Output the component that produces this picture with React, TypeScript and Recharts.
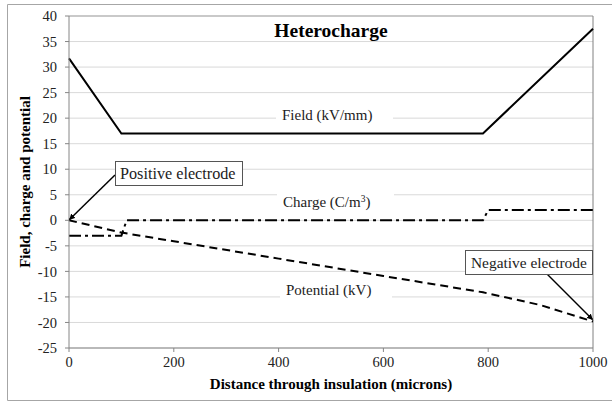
import { CartesianGrid, Line, LineChart, ReferenceLine, XAxis, YAxis } from "recharts";

const serif = "'Liberation Serif', 'Times New Roman', serif";

// distance (microns) vs value
const fieldPts = [
  { x: 0, y: 31.7 },
  { x: 100, y: 17 },
  { x: 790, y: 17 },
  { x: 1000, y: 37.5 },
];

const chargePts = [
  { x: 0, y: -3 },
  { x: 100, y: -3 },
  { x: 110, y: 0 },
  { x: 790, y: 0 },
  { x: 800, y: 2 },
  { x: 1000, y: 2 },
];

const potentialPts = [
  { x: 0, y: 0 },
  { x: 100, y: -2.4 },
  { x: 200, y: -4.1 },
  { x: 400, y: -7.5 },
  { x: 600, y: -10.9 },
  { x: 790, y: -14.1 },
  { x: 900, y: -16.6 },
  { x: 1000, y: -19.8 },
];

const xTicks = [0, 200, 400, 600, 800, 1000];
const yTicks = [-25, -20, -15, -10, -5, 0, 5, 10, 15, 20, 25, 30, 35, 40];

const W = 612;
const H = 404;

function Overlay() {
  return (
    <svg
      width={W}
      height={H}
      style={{ position: "absolute", left: 0, top: 0, pointerEvents: "none", fontFamily: serif }}
    >
      <defs>
        <marker id="arr" viewBox="0 0 10 10" refX="9" refY="5" markerWidth="4" markerHeight="4" orient="auto">
          <path d="M0,0 L10,5 L0,10 z" fill="#000" />
        </marker>
      </defs>
      {/* outer frame */}
      <path d="M612,4.5 H7.5 V400.5 H612" fill="none" stroke="#a6a6a6" strokeWidth={1} />

      <text x={331} y={37} textAnchor="middle" fontSize={19.5} fontWeight="bold" fill="#000">
        Heterocharge
      </text>

      {/* series labels */}
      <rect x={276} y={106} width={117} height={20} fill="#fff" />
      <text x={282} y={120} fontSize={15} fill="#222">Field (kV/mm)</text>

      <rect x={277} y={192} width={117} height={20} fill="#fff" />
      <text x={283} y={207} fontSize={15} fill="#222">
        Charge (C/m<tspan fontSize={9.5} dy={-5}>3</tspan><tspan dy={5}>)</tspan>
      </text>

      <rect x={280} y={280} width={112} height={20} fill="#fff" />
      <text x={286} y={295} fontSize={15} fill="#222">Potential (kV)</text>

      {/* callouts */}
      <line x1={115} y1={175} x2={69.5} y2={219.5} stroke="#000" strokeWidth={1.5} markerEnd="url(#arr)" />
      <rect x={115.5} y={161.5} width={127} height={24} fill="#fff" stroke="#555" />
      <text x={120} y={178.5} fontSize={16.2} fill="#222">Positive electrode</text>

      <line x1={547} y1={274} x2={592.5} y2={319.5} stroke="#000" strokeWidth={1.5} markerEnd="url(#arr)" />
      <rect x={465.5} y={250.5} width={127} height={24} fill="#fff" stroke="#555" />
      <text x={471} y={267.5} fontSize={15.4} fill="#222">Negative electrode</text>

      {/* axis titles */}
      <text x={331} y={389} textAnchor="middle" fontSize={15} fontWeight="bold" fill="#000">
        Distance through insulation (microns)
      </text>
      <text
        x={0}
        y={0}
        transform="translate(30,182) rotate(-90)"
        textAnchor="middle"
        fontSize={15}
        fontWeight="bold"
        fill="#000"
      >
        Field, charge and potential
      </text>
    </svg>
  );
}

export default function App() {
  const tick = { fontFamily: serif, fontSize: 14.5, fill: "#222" };
  return (
    <div style={{ position: "absolute", left: 0, top: 0, width: W, height: H, background: "#fff" }}>
      <LineChart width={W} height={H} margin={{ top: 16, right: 19, bottom: 26, left: 9 }}>
        <CartesianGrid horizontal vertical={false} stroke="#d9d9d9" />
        <XAxis
          type="number"
          dataKey="x"
          domain={[0, 1000]}
          ticks={xTicks}
          height={30}
          tick={tick}
          tickSize={4}
          tickMargin={5}
          stroke="#868686"
        />
        <YAxis
          type="number"
          domain={[-25, 40]}
          ticks={yTicks}
          width={60}
          tick={tick}
          tickSize={4}
          tickMargin={8}
          stroke="#868686"
          interval={0}
        />
        <ReferenceLine y={40} stroke="#a6a6a6" />
        <ReferenceLine x={1000} stroke="#808080" />
        <Line
          data={fieldPts}
          dataKey="y"
          type="linear"
          stroke="#000"
          strokeWidth={2}
          dot={false}
          isAnimationActive={false}
        />
        <Line
          data={chargePts}
          dataKey="y"
          type="linear"
          stroke="#000"
          strokeWidth={2}
          strokeDasharray="12 4 3 4"
          dot={false}
          isAnimationActive={false}
        />
        <Line
          data={potentialPts}
          dataKey="y"
          type="linear"
          stroke="#000"
          strokeWidth={2}
          strokeDasharray="8 5"
          dot={false}
          isAnimationActive={false}
        />
      </LineChart>
      <Overlay />
    </div>
  );
}
